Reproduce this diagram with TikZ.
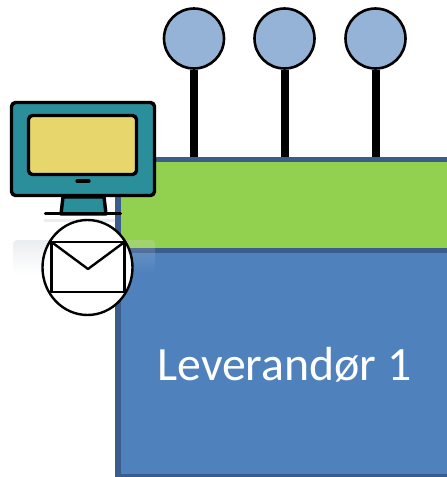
\documentclass[tikz,border=0pt]{standalone}
\usepackage{fontspec}
\setmainfont{Carlito}
\usetikzlibrary{fadings}
\definecolor{edgeblue}{HTML}{3A5D8E}
\definecolor{mainblue}{HTML}{4F81BD}
\definecolor{leaf}{HTML}{92D050}
\definecolor{ball}{HTML}{95B3D7}
\definecolor{teal}{HTML}{2A8F9B}
\definecolor{screen}{HTML}{E6D66B}
\definecolor{glow}{HTML}{DDE2E6}
\tikzset{
  x=1pt,y=-1pt,
  panel/.style={draw=edgeblue,line width=5.5pt},
  ball/.style={circle,draw=black,line width=2.6pt,fill=ball,minimum size=60pt,inner sep=0pt},
  stem/.style={line width=8pt,black},
  iconline/.style={draw=black,line width=3.4pt,line join=round},
  glowbox/.style={fill=glow,path fading=south},
}
\begin{document}
\begin{tikzpicture}
\useasboundingbox (0,0) rectangle (447,477);
% panels
\path[panel,fill=mainblue] (118,250.5) rectangle (460,476.5);
\path[panel,fill=leaf] (118,159.5) rectangle (460,250.5);
% faint glow behind the envelope
\path[glowbox,fill opacity=.6,rounded corners=4pt] (13,240) rectangle (115,274);
\path[glowbox,fill opacity=.22,rounded corners=4pt] (115,240) rectangle (155,274);
\fill[glow,opacity=.6] (44,219) rectangle (115,222);
\node[text=white,font=\fontsize{47.8}{48}\selectfont,anchor=base] (lbl) at (284.5,380) {Leverandør 1};
% balls and stems
\coordinate (s1) at (194,157);
\coordinate (s2) at (284.5,157);
\coordinate (s3) at (375.5,157);
\node[ball] (b1) at (194,38.5) {};
\node[ball] (b2) at (284.5,38.5) {};
\node[ball] (b3) at (375.5,38.5) {};
\draw[stem] (b1.south) -- (s1);
\draw[stem] (b2.south) -- (s2);
\draw[stem] (b3.south) -- (s3);
% monitor
\draw[iconline,fill=teal] (63,197) -- (104,197) -- (106,214) -- (61,214) -- cycle;
\draw[draw=black,line width=3.2pt,line cap=round] (45.5,213.8) -- (120.5,213.8);
\draw[iconline,fill=teal,rounded corners=4pt] (11.5,102.5) rectangle (154.5,195.5);
\draw[iconline,fill=screen,rounded corners=4pt] (28.5,115.5) rectangle (136.5,174.5);
\draw[draw=black,line width=3.2pt,line cap=round] (77,181) -- (89,181);
% mail
\draw[draw=black,line width=2.4pt,fill=white] (87.5,267.5) ellipse [x radius=45, y radius=47.5];
\draw[draw=black,line width=2.4pt,fill=white] (51.5,242) rectangle (124.5,292);
\draw[draw=black,line width=2.4pt,line join=round] (51.5,242) -- (88,269) -- (124.5,242);
\end{tikzpicture}
\end{document}
